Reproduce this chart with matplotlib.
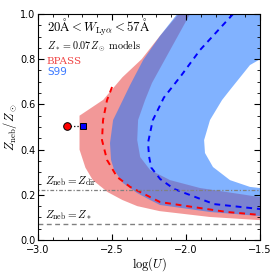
import numpy as np
import matplotlib
matplotlib.use("Agg")
import matplotlib.pyplot as plt
from matplotlib.ticker import MultipleLocator

plt.rcParams["mathtext.fontset"] = "cm"

# contornos BPASS (logU, Zneb/Zsun)
bpass_out_u = [-2.05, -2.18, -2.30, -2.43, -2.56, -2.72, -2.72, -2.72, -2.68, -2.63,
               -2.53, -2.43, -2.33, -2.18, -1.84, -1.50]
bpass_out_z = [1.00, 0.90, 0.80, 0.72, 0.62, 0.55, 0.47, 0.40, 0.32, 0.265,
               0.212, 0.177, 0.150, 0.128, 0.102, 0.088]
bpass_in_u = [-1.50, -1.905, -2.108, -2.243, -2.31, -2.33, -2.324, -2.277, -2.23, -2.108, -1.973]
bpass_in_z = [0.19, 0.23, 0.265, 0.31, 0.367, 0.442, 0.531, 0.619, 0.695, 0.84, 1.00]
bpass_mid_u = [-2.50, -2.534, -2.561, -2.568, -2.534, -2.466, -2.378, -2.243, -2.176,
               -1.953, -1.723, -1.50]
bpass_mid_z = [0.677, 0.619, 0.531, 0.442, 0.354, 0.279, 0.235, 0.19, 0.168,
               0.146, 0.124, 0.111]

# contornos S99
s99_out_u = [-2.06, -2.176, -2.29, -2.378, -2.46, -2.493, -2.514, -2.507, -2.486,
             -2.426, -2.331, -2.243, -2.176, -1.838, -1.50]
s99_out_z = [1.00, 0.903, 0.796, 0.686, 0.575, 0.531, 0.429, 0.354, 0.31,
             0.252, 0.208, 0.177, 0.155, 0.124, 0.106]
s99_in_u = [-1.50, -1.568, -1.703, -1.818, -1.872, -1.878, -1.838, -1.757, -1.703,
            -1.568, -1.486, -1.50]
s99_in_z = [0.23, 0.235, 0.265, 0.323, 0.385, 0.442, 0.531, 0.619, 0.664,
            0.774, 0.805, 1.00]
s99_mid_u = [-1.682, -1.905, -2.03, -2.15, -2.225, -2.257, -2.25, -2.235, -2.175,
             -2.081, -1.993, -1.811, -1.50]
s99_mid_z = [1.00, 0.841, 0.73, 0.63, 0.53, 0.43, 0.37, 0.32, 0.27,
             0.226, 0.204, 0.159, 0.137]

z_dir = 0.22
z_star = 0.07
pt_u = [-2.804, -2.696]
pt_z = [0.503, 0.503]

fig = plt.figure(figsize=(2.74, 2.74), dpi=100)
ax = fig.add_axes([0.139, 0.124, 0.810, 0.825])

# regiões: contorno externo (cima -> baixo) + interno (baixo -> cima)
ax.fill(bpass_out_u + bpass_in_u, bpass_out_z + bpass_in_z,
        color=(0.9, 0.2, 0.2), alpha=0.5, lw=0)
ax.fill(s99_out_u + s99_in_u, s99_out_z + s99_in_z,
        color=(0.1, 0.45, 1.0), alpha=0.55, lw=0)

ax.plot(bpass_mid_u, bpass_mid_z, color="red", ls="--", lw=1.4, dashes=(3, 2.5))
ax.plot(s99_mid_u, s99_mid_z, color="blue", ls="--", lw=1.4, dashes=(3, 2.5))

ax.axhline(z_dir, color="gray", ls=(0, (1, 1.5, 3, 1.5)), lw=0.9)
ax.axhline(z_star, color="gray", ls="--", lw=1.0, dashes=(3.5, 2.5))

ax.plot(pt_u, pt_z, color="black", ls=":", lw=0.9, zorder=4)
ax.plot(pt_u[0], pt_z[0], "o", ms=5.5, mfc="red", mec="black", mew=0.7, zorder=5)
ax.plot(pt_u[1], pt_z[1], "s", ms=5, mfc="blue", mec="black", mew=0.7, zorder=5)

# textos
ax.text(-2.94, 0.942, r"$20\mathrm{\AA} <W_{\rm Ly\alpha} <57\mathrm{\AA}$",
        fontsize=9.2, va="center")
ax.text(-2.94, 0.856, r"$Z_* = 0.07 Z_\odot\ \mathrm{models}$", fontsize=7.3, va="center")
ax.text(-2.94, 0.791, "BPASS", color="#f04848", fontsize=7.5, va="center",
        family="DejaVu Serif")
ax.text(-2.94, 0.742, "S99", color="#3a78ff", fontsize=7.5, va="center")
ax.text(-2.95, z_dir + 0.01, r"$Z_{\rm neb} = Z_{\rm dir}$", fontsize=8, va="bottom")
ax.text(-2.95, z_star + 0.01, r"$Z_{\rm neb} = Z_*$", fontsize=8, va="bottom")

ax.set_xlim(-3.0, -1.5)
ax.set_ylim(0.0, 1.0)
ax.xaxis.set_major_locator(MultipleLocator(0.5))
ax.xaxis.set_minor_locator(MultipleLocator(0.1))
ax.yaxis.set_major_locator(MultipleLocator(0.2))
ax.yaxis.set_minor_locator(MultipleLocator(0.05))
ax.tick_params(which="both", direction="in", top=True, right=True, labelsize=7, pad=2)
ax.tick_params(axis="x", which="major", pad=3.5)
ax.tick_params(which="major", length=4)
ax.tick_params(which="minor", length=2)
ax.set_xlabel(r"$\log(U)$", fontsize=9, labelpad=0)
ax.set_ylabel(r"$Z_{\rm neb}/Z_\odot$", fontsize=9, labelpad=1)

fig.savefig("out.png", dpi=100)
plt.close(fig)
